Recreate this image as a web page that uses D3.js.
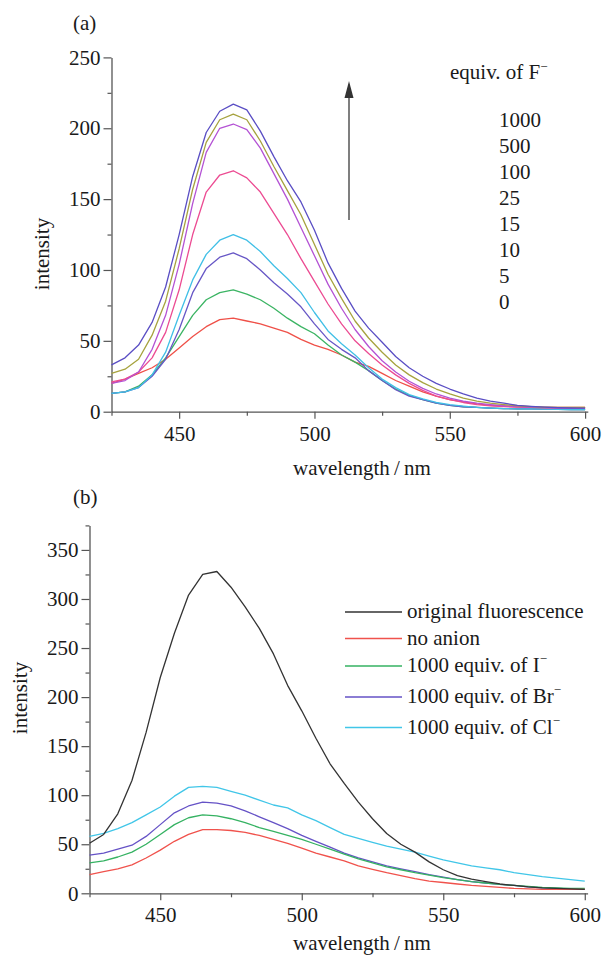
<!DOCTYPE html>
<html><head><meta charset="utf-8">
<script src="https://cdn.jsdelivr.net/npm/d3@7"></script>
<style>
body{margin:0;background:#fff}
svg{display:block}
svg text{font-family:"Liberation Serif","DejaVu Serif","Noto Serif",Times,serif !important;fill:#1a1a1a}
</style>
</head><body>
<svg id="chart" width="602" height="960"></svg>
<script>
// ---------- DATA ----------
const wavelengths = [425,430,435,440,445,450,455,460,465,470,475,480,485,490,495,500,505,510,515,520,525,530,535,540,545,550,555,560,565,570,575,580,585,590,595,600];

// Panel (a): equivalents of F-
const equivLabels = ["1000","500","100","25","15","10","5","0"];
const fEq1000 = [33,38,47,63,88,125,166,197,212,217,213,198,180,163,148,128,105,87,71,59,49,39,31,25,20,16,12.5,9.5,7.5,6,4.5,3.8,3.2,2.8,2.6,2.5];
const fEq500  = [27,30,37,54,78,115,157,190,206,210,206,191,173,156,139,118,97,80,64,52,42,33,26,20.5,16,12.5,9.5,7.5,6,5,4.2,3.6,3.2,3,3,3];
const fEq100  = [20,22,28,44,68,104,147,183,200,203,199,186,168,150,130,110,90,73,58,46,36,28,21.5,16.5,12.5,9.5,7.5,6,5,4.2,3.6,3.2,3,2.8,2.6,2.5];
const fEq25   = [21,23,28,38,56,86,125,155,167,170,165,155,140,125,108,92,76,62,50,41,33,26,20,15,11,8.5,6.5,5,4.2,3.6,3.2,3,2.8,2.6,2.5,2.5];
const fEq15   = [13,14,17,26,42,68,93,111,121,125,121,113,103,94,84,70,57,48,40,31,23,17,12,9,6.5,5,4,3,2.5,2.2,2,2,1.8,1.6,1.5,1.5];
const fEq10   = [13,14,17,25,37,58,84,101,109,112,108,100,91,83,74,62,51,44,38,29,22,15.5,11,8.5,6,4.5,3.5,3,2.5,2.2,2,2,1.8,1.6,1.5,1.5];
const fEq5    = [13,14,18,26,38,53,68,79,84,86,83,79,73,66,60,55,47,40,35,29,22,16,11.5,8.5,6,4.5,3.5,3,2.5,2.2,2,2,1.8,1.6,1.5,1.5];
const fEq0    = [20,23,27,31,37,45,53,60,65,66,64,62,59,56,51,47,44,40,35,32,27,22,18,14,11,8.5,7,5.5,4.5,4,3.5,3.2,3,3,3,3];
const aColors = ["#5a4ec4","#a6a23e","#b452d4","#ec4b92","#40bfe6","#6757c6","#3bb463","#ef5048"];

// Panel (b)
const bLabels = ["original fluorescence","no anion","1000 equiv. of I","1000 equiv. of Br","1000 equiv. of Cl"];
const bSup    = ["","","\u2212","\u2212","\u2212"];
const original = [51,60,81,115,164,220,265,304,325,328,312,292,270,244,212,186,158,132,112,93,76,61,50,42,32,24,18,14.5,12,9.5,8,6.5,5.5,5,4.5,4];
const noAnion  = [19,22,25,29,36,44,53,60,65,65,64,62,59,55,51,46,41,37,33,28,24.5,21,18,15,12.5,11,9.5,8,7,6,5,4.5,4,4,4,4];
const iodide   = [31,33,37,42,50,60,70,77,80,79,76,72,67,63,59,55,50,45,40,35,31,27,24,21,18.5,16,14,12,10.5,9,8,7,6,5.5,5,5];
const bromide  = [39,41,45,49,58,70,82,89,93,92,89,84,78,72,66,59,53,47,41,36,32,28,25,22,19,16.5,14,12,10.5,9,8,6.5,5.5,5,4.5,4];
const chloride = [58,61,66,72,80,88,99,108,109,108,104,100,95,90,87,80,74,67,60,56,52,48,45,42,38,34,31,28,26,24,21,19,17,15.5,14,12.5];
const bColors = ["#333333","#f0524c","#35b262","#6552c6","#41c6e8"];

// Ticks
const xTickValues = [425,450,475,500,525,550,575,600];
const xTickLabels = [450,500,550,600];
const aYTicks = [0,25,50,75,100,125,150,175,200,225,250];
const aYLabels = [0,50,100,150,200,250];
const bYTicks = [0,25,50,75,100,125,150,175,200,225,250,275,300,325,350,375];
const bYLabels = [0,50,100,150,200,250,300,350];

// ---------- DRAW ----------
const svg = d3.select("#chart");
const FS = 21;
const FONT = "'Liberation Serif','DejaVu Serif','Noto Serif',Times,serif";

function drawPanel(cfg){
  const x = d3.scaleLinear().domain([425,601]).range([cfg.x0,cfg.x1]);
  const y = d3.scaleLinear().domain([0,cfg.yMax]).range([cfg.y0,cfg.y1]);
  const g = svg.append("g");

  const xa = d3.axisBottom(x).tickValues(xTickValues).tickSize(7).tickSizeOuter(0).tickPadding(7)
     .tickFormat(d => xTickLabels.includes(d) ? d : "");
  const gx = g.append("g").attr("transform",`translate(0,${cfg.y0})`).call(xa);
  gx.selectAll(".tick").filter(d=>!xTickLabels.includes(d)).select("line").attr("y2",4);

  const ya = d3.axisLeft(y).tickValues(cfg.yTicks).tickSize(8).tickSizeOuter(0).tickPadding(3)
     .tickFormat(d => cfg.yLabels.includes(d) ? d : "");
  const gy = g.append("g").attr("transform",`translate(${cfg.x0},0)`).call(ya);
  gy.selectAll(".tick").filter(d=>!cfg.yLabels.includes(d)).select("line").attr("x2",-4);

  [gx,gy].forEach(a=>{
    a.attr("font-family",FONT);
    a.select(".domain").attr("stroke","#555").attr("stroke-width",1.3);
    a.selectAll(".tick line").attr("stroke","#555").attr("stroke-width",1.2);
    a.selectAll(".tick text").attr("font-size",FS).attr("fill","#1a1a1a");
  });

  const line = d3.line().x((d,i)=>x(wavelengths[i])).y(d=>y(d)).curve(d3.curveLinear);
  cfg.series.forEach((s,i)=>{
    g.append("path").datum(s).attr("d",line).attr("fill","none")
     .attr("stroke",cfg.colors[i]).attr("stroke-width",1.3).attr("stroke-linejoin","round");
  });

  g.append("text").attr("x",cfg.panelX).attr("y",cfg.panelY).attr("font-size",FS).text(cfg.panel);
  g.append("text").attr("x",293).attr("y",cfg.xTitleY).attr("font-size",FS).text("wavelength\u2009/\u2009nm");
  g.append("text").attr("transform",`translate(${cfg.yTitleX},${cfg.yTitleY}) rotate(-90)`)
   .attr("text-anchor","middle").attr("font-size",FS).text("intensity");
  return {x,y,g};
}

// Panel (a)
drawPanel({
  x0:111.5, x1:587.8, y0:411.7, y1:57.4, yMax:250,
  yTicks:aYTicks, yLabels:aYLabels,
  series:[fEq0,fEq5,fEq10,fEq15,fEq25,fEq100,fEq500,fEq1000],
  colors:aColors.slice().reverse(),
  panel:"(a)", panelX:73, panelY:29.5, xTitleY:475, yTitleX:49, yTitleY:254
});

// legend (a)
const la = svg.append("text").attr("x",450).attr("y",79).attr("font-size",FS);
la.append("tspan").text("equiv. of F");
la.append("tspan").attr("dy",-8).attr("font-size",13).text("\u2212");
equivLabels.forEach((t,i)=>{
  svg.append("text").attr("x",499).attr("y",127+i*26).attr("font-size",FS).text(t);
});
// arrow
svg.append("line").attr("x1",349).attr("x2",349).attr("y1",220).attr("y2",95)
   .attr("stroke","#555").attr("stroke-width",1.5);
svg.append("path").attr("d","M349,81 L344.5,98 L353.5,98 Z").attr("fill","#333");

// Panel (b)
drawPanel({
  x0:89.5, x1:587.6, y0:893.3, y1:525.4, yMax:375,
  yTicks:bYTicks, yLabels:bYLabels,
  series:[chloride,bromide,iodide,noAnion,original],
  colors:bColors.slice().reverse(),
  panel:"(b)", panelX:73, panelY:503.5, xTitleY:950, yTitleX:27, yTitleY:698
});

// legend (b)
const rowY = [612,638.5,666,697,727.5];
bLabels.forEach((t,i)=>{
  svg.append("line").attr("x1",345).attr("x2",402).attr("y1",rowY[i]).attr("y2",rowY[i])
     .attr("stroke",bColors[i]).attr("stroke-width",1.3);
  const tx = svg.append("text").attr("x",407).attr("y",rowY[i]+6).attr("font-size",FS);
  tx.append("tspan").text(t);
  if(bSup[i]) tx.append("tspan").attr("dy",-9).attr("font-size",13).text(bSup[i]);
});
</script>
</body></html>
